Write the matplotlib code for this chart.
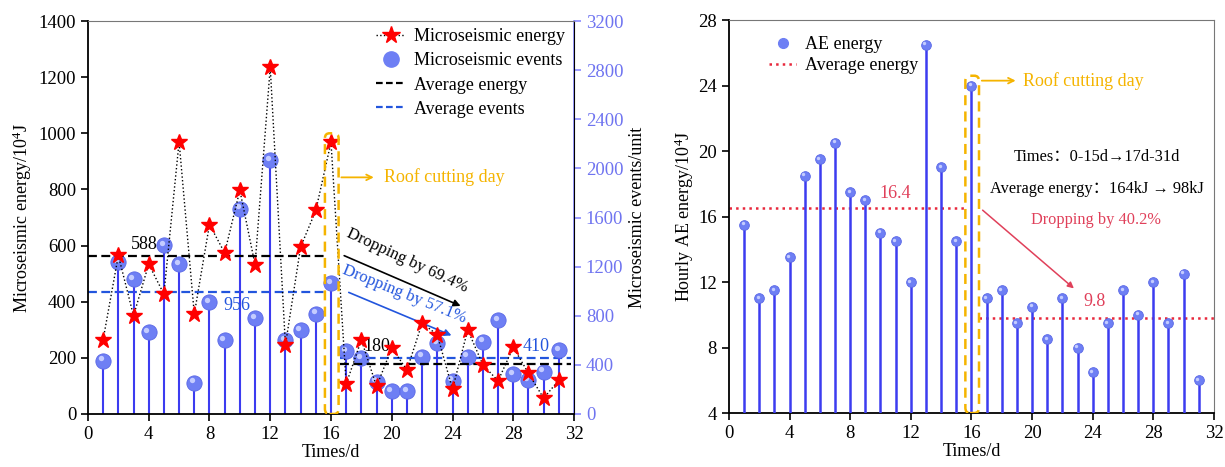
import numpy as np
import matplotlib
matplotlib.use('Agg')
import matplotlib.pyplot as plt
from matplotlib.patches import FancyBboxPatch
from matplotlib.lines import Line2D

plt.rcParams['font.family'] = ['Liberation Serif', 'Noto Sans CJK SC']
plt.rcParams['mathtext.fontset'] = 'custom'
plt.rcParams['mathtext.rm'] = 'Liberation Serif'
plt.rcParams['mathtext.it'] = 'Liberation Serif'

# data
days = np.arange(1, 32)
ms_energy = [265, 565, 350, 534, 427, 970, 356, 675, 574, 797, 532, 1235, 246, 595, 725,
             968, 107, 264, 98, 235, 157, 324, 282, 88, 300, 175, 118, 238, 145, 56, 121]
ms_events = [435, 1238, 1099, 664, 1374, 1222, 256, 909, 604, 1673, 781, 2065, 604, 680, 816,
             1067, 509, 455, 264, 188, 188, 468, 577, 272, 468, 590, 767, 327, 278, 345, 522]
ae_energy = [15.5, 11, 11.5, 13.5, 18.5, 19.5, 20.5, 17.5, 17, 15, 14.5, 12, 26.5, 19, 14.5,
             24, 11, 11.5, 9.5, 10.5, 8.5, 11, 8, 6.5, 9.5, 11.5, 10, 12, 9.5, 12.5, 6]

avg_energy = [564, 177]       # line levels (before, after)
avg_events = [993, 455]
avg_energy_lbl = ['588', '180']
avg_events_lbl = ['956', '410']
ae_avg = [16.5, 9.8]
ae_avg_lbl = ['16.4', '9.8']

BLUE = '#3c3cf0'
BALL = '#6e7ff4'
LBLUE = '#8a8aff'
YEL = '#f5b400'
RED_T = '#e0405a'
DASH = (0, (4, 2))

fig = plt.figure(figsize=(12.25, 4.67), dpi=100)
ax1 = fig.add_axes([0.0718, 0.1135, 0.3968, 0.8415])
ax2 = ax1.twinx()
axr = fig.add_axes([0.595, 0.1156, 0.396, 0.8414])


def balls(ax, x, y, ms):
    ax.plot(x, y, 'o', color=BALL, mec='#5a68e6', mew=0.6, ms=ms, zorder=4)
    ax.plot(x, y, 'o', color='#c4ccff', mec='none', ms=ms * 0.35, zorder=5,
            transform=ax.transData + matplotlib.transforms.ScaledTranslation(
                -ms * 0.15 / 72, ms * 0.15 / 72, fig.dpi_scale_trans))


# ---- left panel
ax1.set_zorder(ax2.get_zorder() + 1)
ax1.patch.set_visible(False)

ax2.vlines(days, 0, ms_events, color=BLUE, lw=1.5, zorder=3)
balls(ax2, days, ms_events, 11)
ax2.hlines(avg_events[0], 0, 15.8, color='#2255dd', ls=DASH, lw=1.6)
ax2.hlines(avg_events[1], 16.6, 31.8, color='#2255dd', ls=DASH, lw=1.6)

ax1.plot(days, ms_energy, ls=':', color='k', lw=1.0, zorder=5)
ax1.plot(days, ms_energy, '*', color='#ff0000', ms=12, mec='#ff0000', zorder=6)
ax1.hlines(avg_energy[0], 0, 15.8, color='k', ls=DASH, lw=1.6, zorder=3)
ax1.hlines(avg_energy[1], 16.6, 31.8, color='k', ls=DASH, lw=1.6, zorder=3)

ax1.text(4.6, 572, avg_energy_lbl[0], fontsize=13, ha='right', va='bottom')
ax1.text(9.8, 385, avg_events_lbl[0], fontsize=13, color='#2255dd', ha='center', va='center')
ax1.text(19.0, 240, avg_energy_lbl[1], fontsize=13, ha='center', va='center')
ax1.text(29.5, 240, avg_events_lbl[1], fontsize=13, color='#2255dd', ha='center', va='center')

box = FancyBboxPatch((15.6, 0), 0.9, 1000, boxstyle='round,pad=0,rounding_size=0.3',
                     fill=False, ec=YEL, lw=1.8, ls=(0, (4, 2.5)), zorder=7,
                     mutation_aspect=60)
ax1.add_patch(box)
ax1.annotate('', xy=(19.0, 843), xytext=(16.5, 843),
             arrowprops=dict(arrowstyle='->', color=YEL, lw=1.3))
ax1.text(19.5, 843, 'Roof cutting day', color=YEL, fontsize=13, va='center')

ax1.annotate('', xy=(24.7, 381), xytext=(16.7, 568),
             arrowprops=dict(arrowstyle='-|>', color='k', lw=1.2, mutation_scale=10))
ax1.text(21.0, 545, 'Dropping by 69.4%', fontsize=12, rotation=-25,
         ha='center', va='center', rotation_mode='anchor')
ax1.annotate('', xy=(24.1, 276), xytext=(17.0, 437),
             arrowprops=dict(arrowstyle='-|>', color='#2255dd', lw=1.2, mutation_scale=10))
ax1.text(20.8, 428, 'Dropping by 57.1%', fontsize=12, rotation=-22, color='#2255dd',
         ha='center', va='center', rotation_mode='anchor')

ax1.set_xlim(0, 32)
ax1.set_ylim(0, 1400)
ax2.set_ylim(0, 3200)
ax1.set_xticks(np.arange(0, 33, 4))
ax1.set_yticks(np.arange(0, 1401, 200))
ax2.set_yticks(np.arange(0, 3201, 400))
ax1.tick_params(direction='out', labelsize=13.5, length=5, width=1.2)
ax2.tick_params(direction='out', labelsize=13.5, length=5, width=1.2,
                colors=LBLUE, labelcolor='#6f74f0')
for s in ['left', 'bottom']:
    ax1.spines[s].set_linewidth(1.3)
ax1.spines['top'].set_color('#777777')
ax2.spines['right'].set_color(LBLUE)
ax2.spines['right'].set_linewidth(1.2)
for s in ['left', 'bottom', 'top']:
    ax2.spines[s].set_visible(False)
ax1.set_xlabel('Times/d', fontsize=13, labelpad=1)
ax1.set_ylabel('Microseismic energy/10$^4$J', fontsize=13, labelpad=3)
ax2.set_ylabel('Microseismic events/unit', fontsize=13, labelpad=4)

h1 = [Line2D([], [], ls=':', color='k', marker='*', mfc='#ff0000', mec='#ff0000', ms=13, lw=1),
      Line2D([], [], ls='none', marker='o', color=BALL, ms=11),
      Line2D([], [], ls='--', color='k', lw=1.6, dashes=(3, 1.5)),
      Line2D([], [], ls='--', color='#2255dd', lw=1.6, dashes=(3, 1.5))]
ax1.legend(h1, ['Microseismic energy', 'Microseismic events', 'Average energy', 'Average events'],
           loc='upper right', frameon=False, fontsize=13, handlelength=1.6,
           handletextpad=0.5, labelspacing=0.4, borderaxespad=0.1,
           bbox_to_anchor=(1.0, 1.005))

# ---- right panel
axr.vlines(days, 4, ae_energy, color=BLUE, lw=1.8, zorder=3)
balls(axr, days, ae_energy, 7)
axr.hlines(ae_avg[0], 0, 15.6, color='#e8283c', ls=':', lw=1.8)
axr.hlines(ae_avg[1], 16.5, 32, color='#e8283c', ls=':', lw=1.8)
axr.text(9.9, 17.4, ae_avg_lbl[0], color=RED_T, fontsize=13, va='center')
axr.text(24.1, 10.8, ae_avg_lbl[1], color=RED_T, fontsize=13, va='center', ha='center')

boxr = FancyBboxPatch((15.6, 4), 0.9, 20.6, boxstyle='round,pad=0,rounding_size=0.3',
                      fill=False, ec=YEL, lw=1.8, ls=(0, (4, 2.5)), zorder=7,
                      mutation_aspect=1.1)
axr.add_patch(boxr)
axr.annotate('', xy=(19.1, 24.3), xytext=(16.5, 24.3),
             arrowprops=dict(arrowstyle='->', color=YEL, lw=1.3))
axr.text(19.4, 24.3, 'Roof cutting day', color=YEL, fontsize=13, va='center')
axr.annotate('', xy=(22.9, 11.5), xytext=(16.6, 16.5),
             arrowprops=dict(arrowstyle='-|>', color=RED_T, lw=1.1, mutation_scale=9))
axr.text(24.3, 19.65, 'Times：0-15d→17d-31d', fontsize=11.8, ha='center', va='center')
axr.text(24.3, 17.68, 'Average energy：164kJ → 98kJ', fontsize=11.8, ha='center', va='center')
axr.text(24.2, 15.8, 'Dropping by 40.2%', fontsize=11.8, color=RED_T, ha='center', va='center')

axr.set_xlim(0, 32)
axr.set_ylim(4, 28)
axr.set_xticks(np.arange(0, 33, 4))
axr.set_yticks(np.arange(4, 29, 4))
axr.tick_params(direction='out', labelsize=13.5, length=5, width=1.2)
for s in ['left', 'bottom']:
    axr.spines[s].set_linewidth(1.3)
for s in ['right', 'top']:
    axr.spines[s].set_color('#777777')
axr.set_xlabel('Times/d', fontsize=13, labelpad=1)
axr.set_ylabel('Hourly AE energy/10$^4$J', fontsize=13, labelpad=2)

hr = [Line2D([], [], ls='none', marker='o', color=BALL, ms=7),
      Line2D([], [], ls=':', color='#e8283c', lw=1.8)]
axr.legend(hr, ['AE energy', 'Average energy'], loc='upper left', frameon=False,
           fontsize=13, handlelength=1.5, handletextpad=0.5, labelspacing=0.2,
           bbox_to_anchor=(0.05, 1.0))

fig.savefig('out.png', dpi=100)
